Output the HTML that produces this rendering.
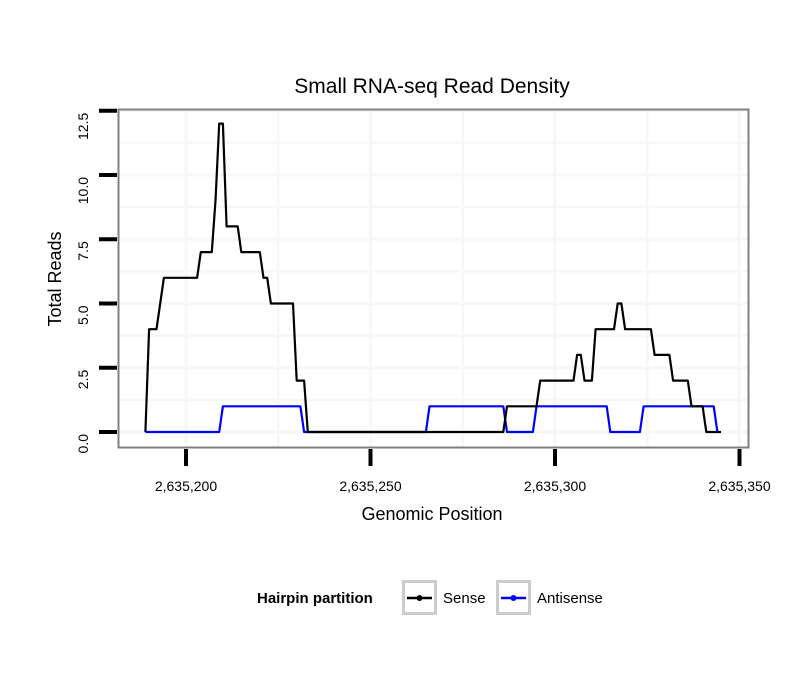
<!DOCTYPE html>
<html><head><meta charset="utf-8"><style>
body{margin:0;background:#fff}
svg{display:block;font-family:"Liberation Sans",Arial,sans-serif}
</style></head><body>
<svg id="chart" width="810" height="690" viewBox="0 0 810 690">
<rect x="0" y="0" width="810" height="690" fill="#fff"/>
<text x="432" y="93" font-size="21" text-anchor="middle" fill="#000">Small RNA-seq Read Density</text>
<g id="grid"></g>
<g id="series"></g>
<rect x="118.5" y="109.5" width="630" height="338" fill="none" stroke="#808080" stroke-width="2"/>
<g id="axes"></g>
<text x="432" y="520" font-size="18" text-anchor="middle">Genomic Position</text>
<text transform="translate(61,279) rotate(-90)" font-size="18" text-anchor="middle">Total Reads</text>
<g>
<text x="257" y="603" font-size="15" font-weight="bold">Hairpin partition</text>
<g>
<rect x="403.5" y="581.5" width="32" height="32" fill="#fff" stroke="#cccccc" stroke-width="3"/>
<line x1="407" y1="598" x2="432" y2="598" stroke="#000" stroke-width="2.5"/>
<circle cx="419.5" cy="598" r="3" fill="#000"/>
<text x="443" y="603" font-size="15">Sense</text>
</g>
<g>
<rect x="497.5" y="581.5" width="32" height="32" fill="#fff" stroke="#cccccc" stroke-width="3"/>
<line x1="501" y1="598" x2="526" y2="598" stroke="#0000ff" stroke-width="2.5"/>
<circle cx="513.5" cy="598" r="3" fill="#0000ff"/>
<text x="537" y="603" font-size="15">Antisense</text>
</g>
</g>
</svg>
<script>
const sensePos = [189,190,192,194,203,204,207,208,209,210,211,214,215,220,221,222,223,229,230,232,233,286,287,295,296,305,306,307,308,310,311,316,317,318,319,326,327,331,332,336,337,340,341,345];
const senseVal = [0,4,4,6,6,7,7,9,12,12,8,8,7,7,6,6,5,5,2,2,0,0,1,1,2,2,3,3,2,2,4,4,5,5,4,4,3,3,2,2,1,1,0,0];
const antiPos = [189,209,210,231,232,265,266,286,287,294,295,314,315,323,324,343,344];
const antiVal = [0,0,1,1,0,0,1,1,0,0,1,1,0,0,1,1,0];
const xTicks = [2635200,2635250,2635300,2635350];
const xTickLabels = ["2,635,200","2,635,250","2,635,300","2,635,350"];
const yTicks = [0,2.5,5,7.5,10,12.5];
const yTickLabels = ["0.0","2.5","5.0","7.5","10.0","12.5"];

const NS="http://www.w3.org/2000/svg";
const BASE=2635000;
function xs(p){return 186+(p-200)*3.69;}
function xv(v){return xs(v-BASE);}
function ys(v){return 432-v*25.7;}
function mk(t,a,parent){const e=document.createElementNS(NS,t);for(const k in a)e.setAttribute(k,a[k]);parent.appendChild(e);return e;}
const grid=document.getElementById('grid'),axes=document.getElementById('axes'),series=document.getElementById('series');
const GC='#f7f7f7';
for(let i=1;i<xTicks.length;i++){
  const xm=(xv(xTicks[i])+xv(xTicks[i-1]))/2;
  const l=mk('line',{x1:xm,x2:xm,y1:110,y2:447,stroke:GC,'stroke-width':2.5},grid);
  
  
}
for(let i=1;i<yTicks.length;i++){
  const ym=(ys(yTicks[i])+ys(yTicks[i-1]))/2;
  const l=mk('line',{x1:119,x2:748,y1:ym,y2:ym,stroke:GC,'stroke-width':2.5},grid);
  
  
}
xTicks.forEach((t,i)=>{
  const x=xv(t);
  if(x<748){const g=mk('line',{x1:x,x2:x,y1:110,y2:447,stroke:GC,'stroke-width':3},grid);
  
  }
  const tk=mk('line',{x1:x,x2:x,y1:449,y2:466,stroke:'#000','stroke-width':4},axes);
  
  
  const lb=mk('text',{x:x,y:491,'font-size':14,'text-anchor':'middle'},axes);
  lb.textContent=xTickLabels[i];
  
  
});
yTicks.forEach((t,i)=>{
  const y=ys(t);
  const g=mk('line',{x1:119,x2:748,y1:y,y2:y,stroke:GC,'stroke-width':3},grid);
  
  
  const tk=mk('line',{x1:99,x2:117,y1:y,y2:y,stroke:'#000','stroke-width':4},axes);
  
  
  const lb=mk('text',{transform:`translate(88,${y+2}) rotate(-90)`,'font-size':14,'text-anchor':'end'},axes);
  lb.textContent=yTickLabels[i];
  
  
});
function path(pos,val){return pos.map((p,i)=>(i?'L':'M')+xs(p).toFixed(1)+','+ys(val[i]).toFixed(1)).join(' ');}
const pa=mk('path',{d:path(antiPos,antiVal),fill:'none',stroke:'#0000ff','stroke-width':2.2,'stroke-linejoin':'round'},series);


const ps=mk('path',{d:path(sensePos,senseVal),fill:'none',stroke:'#000','stroke-width':2.2,'stroke-linejoin':'round'},series);


</script>
</body></html>
